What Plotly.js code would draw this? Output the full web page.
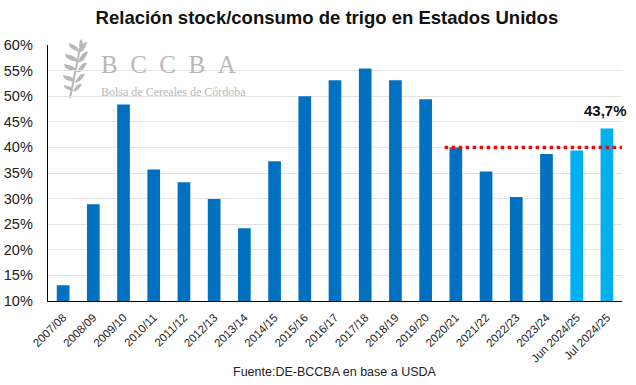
<!DOCTYPE html>
<html>
<head>
<meta charset="utf-8">
<script src="https://cdn.plot.ly/plotly-3.0.1.min.js"></script>
<style>html,body{margin:0;padding:0;background:#fff;}#chart{width:636px;height:385px;}</style>
</head>
<body>
<div id="chart"></div>
<script>
const categories = ["2007/08","2008/09","2009/10","2010/11","2011/12","2012/13","2013/14","2014/15","2015/16","2016/17","2017/18","2018/19","2019/20","2020/21","2021/22","2022/23","2023/24","Jun 2024/25","Jul 2024/25"];
const ratioValues = [13.1, 28.9, 48.4, 35.7, 33.2, 29.9, 24.2, 37.3, 50.0, 53.1, 55.4, 53.1, 49.4, 40.0, 35.3, 30.3, 38.7, 39.4, 43.7];
const barColors = ["#0070C0","#0070C0","#0070C0","#0070C0","#0070C0","#0070C0","#0070C0","#0070C0","#0070C0","#0070C0","#0070C0","#0070C0","#0070C0","#0070C0","#0070C0","#0070C0","#0070C0","#00B0F0","#00B0F0"];
const referenceLevel = 40;
const referenceStart = "2020/21";
const highlightLabel = "43,7%";
const yTickVals = [10,15,20,25,30,35,40,45,50,55,60];

const idxStart = categories.indexOf(referenceStart);
const n = categories.length;

const trace = {
  type: 'bar',
  x: categories.map((c,i)=>i),
  y: ratioValues,
  marker: {color: barColors},
  hoverinfo: 'x+y'
};

// plot area in pixels: x 48..622, y 45..301
const PL = 48, PR = 622, PT = 45, PB = 301;
const toPaperX = px => (px-PL)/(PR-PL);
const toPaperY = py => (PB-py)/(PB-PT);

const wm = '#b8b8b8';
function leafPaper(cx, cy, dx, dy){
  const pts = [[cx,cy],[cx+dx*0.2-dy*0.35, cy+dy*0.2+dx*0.35],[cx+dx,cy+dy],[cx+dx*0.8+dy*0.35, cy+dy*0.8-dx*0.35]];
  const p = pts.map(([x,y])=>[toPaperX(x), toPaperY(y)]);
  return `M ${p[0][0]} ${p[0][1]} Q ${p[1][0]} ${p[1][1]} ${p[2][0]} ${p[2][1]} Q ${p[3][0]} ${p[3][1]} ${p[0][0]} ${p[0][1]} Z`;
}
const wheatShapes = [];
const leafDefs = [
  [79,52,-10,-9],[79,52,8,-10],
  [78,62,-13,-8],[78,62,10,-10],
  [77,72,-13,-8],[77,72,10,-9],
  [75,82,-12,-7],[75,82,10,-8],
  [73,91,-9,-6],[73,91,9,-7],
  [80,50,2,-11]
];
leafDefs.forEach(d=>wheatShapes.push({type:'path', xref:'paper', yref:'paper', path: leafPaper(...d), fillcolor: wm, line:{width:0}, layer:'below'}));
wheatShapes.push({type:'line', xref:'paper', yref:'paper', x0: toPaperX(80), y0: toPaperY(48), x1: toPaperX(70), y1: toPaperY(98), line:{color: wm, width:2}, layer:'below'});

const layout = {
  width: 636, height: 385,
  margin: {l: PL, r: 636-PR, t: PT, b: 385-PB},
  paper_bgcolor: '#fff', plot_bgcolor: '#fff',
  font: {family: '"Liberation Sans", Arial, sans-serif', color: '#222'},
  title: {text: '<b>Relación stock/consumo de trigo en Estados Unidos</b>', font: {size: 18.5, color: '#111', family: '"Liberation Sans", Arial, sans-serif'}, x: 0.514, xanchor: 'center', y: 0.955, yanchor: 'middle'},
  bargap: 0.58,
  showlegend: false,
  xaxis: {
    tickmode: 'array', tickvals: categories.map((c,i)=>i), ticktext: categories,
    range: [-0.5, n-0.5], tickangle: -45,
    tickfont: {size: 11.5, color: '#222'},
    showline: true, linecolor: '#000', linewidth: 1.3,
    showgrid: false, zeroline: false, ticks: '', ticklabelstandoff: 4, fixedrange: true
  },
  yaxis: {
    range: [10, 60], tickvals: yTickVals, ticktext: yTickVals.map(v=>v+'%'),
    tickfont: {size: 14.5, color: '#222'},
    showgrid: true, gridcolor: '#e3e3e3', gridwidth: 1,
    showline: true, linecolor: '#000', linewidth: 1.3,
    zeroline: false, ticks: '', ticklabelstandoff: 11, fixedrange: true
  },
  shapes: wheatShapes.concat([
    {type: 'line', xref: 'x', yref: 'y', x0: idxStart - 0.37, x1: n - 0.3, y0: referenceLevel, y1: referenceLevel,
     line: {color: '#E01010', width: 3.5, dash: 'dot'}}
  ]),
  annotations: [
    {x: n-1, y: ratioValues[n-1], xref: 'x', yref: 'y', text: '<b>' + highlightLabel + '</b>', showarrow: false,
     yanchor: 'bottom', yshift: 7, xshift: -1, font: {size: 15, color: '#111'}},
    {xref: 'paper', yref: 'paper', x: toPaperX(99), y: toPaperY(64), xanchor: 'left', yanchor: 'middle',
     text: 'B\u00a0\u00a0C\u00a0\u00a0C\u00a0\u00a0B\u00a0\u00a0A', showarrow: false, font: {family: '"Liberation Serif", serif', size: 25, color: wm}},
    {xref: 'paper', yref: 'paper', x: toPaperX(99), y: toPaperY(92), xanchor: 'left', yanchor: 'middle',
     text: 'Bolsa de Cereales de Córdoba', showarrow: false, font: {family: '"Liberation Serif", serif', size: 12, color: wm}},
    {xref: 'paper', yref: 'paper', x: toPaperX(335), y: toPaperY(372), xanchor: 'center', yanchor: 'middle',
     text: 'Fuente:DE-BCCBA en base a USDA', showarrow: false, font: {size: 12.5, color: '#222'}}
  ]
};

Plotly.newPlot('chart', [trace], layout, {displayModeBar: false, staticPlot: true});
</script>
</body>
</html>
